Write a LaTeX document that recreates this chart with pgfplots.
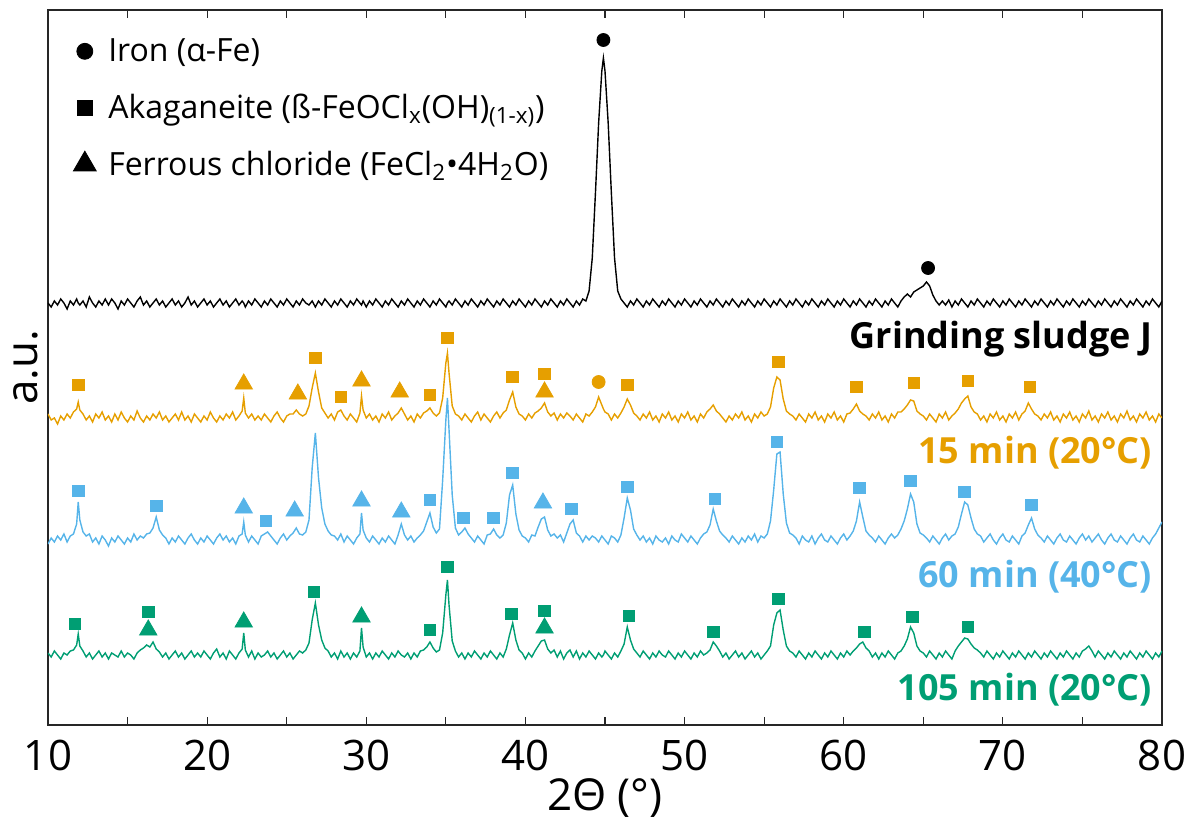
\documentclass[border=0pt]{standalone}
\usepackage{fontspec}
\setmainfont{Open Sans}
\usepackage{pgfplots}
\pgfplotsset{compat=1.18}
\usepackage{pgfplotstable}
\definecolor{cO}{HTML}{E69F00}
\definecolor{cB}{HTML}{56B4E9}
\definecolor{cG}{HTML}{009E73}
\pgfplotstableread{
x k o b g
10.0 0 4 -4 2
10.2 -4 -2 2 -2
10.4 2 0 -2 4
10.6 -2 -6 4 0
10.8 4 2 0 -4
11.0 0 -2 6 2
11.2 -6 4 -2 0
11.4 2 0 4 4
11.6 -2 6 6 5
11.8 4 9 16 10
11.9 0 16 38 21
12.0 -2 8 20 9
12.2 2 4 8 4
12.4 -4 -2 4 -2
12.6 6 2 6 2
12.8 0 -4 -2 -4
13.0 -4 4 2 0
13.2 2 0 -4 4
13.4 -2 6 4 -2
13.6 4 -2 0 2
13.8 -2 2 -6 -4
14.0 4 -4 2 2
14.2 0 4 -2 0
14.4 -6 -2 4 -2
14.6 2 6 0 4
14.8 -2 0 -4 -2
15.0 4 -4 2 2
15.2 0 2 -2 0
15.4 -4 -2 6 -4
15.6 2 7 0 2
15.8 6 0 4 5
16.0 -2 -4 2 7
16.2 2 2 6 10
16.4 -4 -2 7 8
16.6 0 4 12 13
16.8 4 0 23 6
17.0 -2 6 10 3
17.2 2 -2 5 -2
17.4 -4 2 2 2
17.6 0 -4 -4 -4
17.8 4 0 2 0
18.0 -2 4 -2 4
18.2 2 -2 4 -2
18.4 -4 6 0 2
18.6 0 -2 -4 -4
18.8 6 2 2 0
19.0 -2 -4 6 4
19.2 2 4 0 -2
19.4 -4 0 -4 2
19.6 0 -4 2 -2
19.8 4 2 -2 4
20.0 -2 -2 4 0
20.2 2 6 0 -4
20.4 -4 0 -4 2
20.6 0 -4 2 6
20.8 4 2 6 -2
21.0 -2 -2 0 2
21.2 2 4 4 -4
21.4 -4 0 -2 4
21.6 0 6 2 0
21.8 4 -2 -4 -4
22.0 -2 2 4 2
22.2 2 7 6 6
22.3 0 20 18 22
22.4 -4 5 5 5
22.6 2 0 -2 -2
22.8 -2 4 4 4
23.0 4 -2 0 -4
23.2 0 2 -4 2
23.4 -4 -2 4 -2
23.6 2 4 6 0
23.8 -2 0 8 4
24.0 4 -4 4 -2
24.2 0 2 0 2
24.4 -4 6 -4 -4
24.6 2 0 2 0
24.8 -2 -4 6 4
25.0 4 2 0 -2
25.2 0 4 4 2
25.4 -4 4 7 -4
25.6 2 8 12 0
25.8 -2 4 6 4
26.0 4 2 5 2
26.2 0 4 8 5
26.4 -2 12 20 12
26.6 2 30 72 35
26.8 -4 45 107 52
27.0 2 26 62 30
27.2 -2 10 32 15
27.4 4 5 16 7
27.6 0 0 9 4
27.8 -4 4 5 -2
28.0 2 -2 4 2
28.2 -2 6 0 -4
28.4 4 8 6 4
28.6 0 2 -2 -2
28.8 -4 -2 4 2
29.0 2 4 0 -4
29.2 -2 0 -4 2
29.4 4 -4 2 -2
29.6 0 5 6 4
29.7 -2 22 27 27
29.8 2 8 10 8
30.0 -4 0 2 -2
30.2 2 4 -2 2
30.4 -2 -2 4 -4
30.6 4 2 0 2
30.8 0 -4 -4 -2
31.0 -4 4 2 4
31.2 2 0 -2 0
31.4 -2 6 4 -4
31.6 4 -2 0 2
31.8 0 2 -4 -2
32.0 -4 5 5 4
32.2 2 10 16 0
32.4 -2 4 5 -2
32.6 4 -2 0 2
32.8 0 2 4 -4
33.0 -4 -4 -2 2
33.2 2 4 2 -2
33.4 -2 0 5 4
33.6 4 5 9 5
33.8 0 7 18 8
34.0 -4 10 27 13
34.2 2 5 13 7
34.4 -2 2 7 3
34.6 4 5 11 5
34.8 0 20 60 22
35.0 -4 55 120 60
35.1 0 65 142 75
35.2 2 45 110 50
35.4 -2 12 45 14
35.6 4 4 12 4
35.8 0 2 5 -2
36.0 -4 -2 8 2
36.2 2 4 12 -4
36.4 -2 0 6 2
36.6 4 -4 2 -2
36.8 0 2 -2 4
37.0 -4 6 4 0
37.2 2 -2 0 -4
37.4 -2 4 -4 2
37.6 4 0 5 -2
37.8 0 -4 6 4
38.0 -4 2 11 0
38.2 2 6 5 -4
38.4 -2 0 2 2
38.6 4 5 5 -2
38.8 0 8 17 6
39.0 -4 18 45 20
39.2 2 26 55 32
39.4 -2 11 26 15
39.6 4 4 10 5
39.8 0 2 4 2
40.0 -4 -2 2 -4
40.2 2 4 -2 2
40.4 -2 0 5 -2
40.6 4 5 4 4
40.8 0 7 13 9
41.0 -4 10 21 14
41.2 2 15 23 15
41.4 -2 6 10 6
41.6 4 2 4 2
41.8 0 5 6 5
42.0 -4 -2 2 -2
42.2 2 4 5 4
42.4 -2 0 -2 -4
42.6 4 5 7 2
42.8 0 2 16 5
43.0 -4 -2 20 -2
43.2 2 4 7 4
43.4 -2 0 4 -4
43.6 4 -4 -2 2
43.8 2 4 4 -2
44.0 12 2 0 4
44.2 45 6 4 0
44.4 110 11 2 -4
44.6 180 21 -2 2
44.8 232 13 4 -2
44.9 245 9 2 0
45.0 232 6 0 4
45.2 180 4 -4 0
45.4 110 -2 4 -4
45.6 45 4 2 2
45.8 12 0 -2 -2
46.0 4 5 5 4
46.2 0 11 22 11
46.4 -4 19 42 28
46.6 2 13 30 15
46.8 -2 5 11 6
47.0 4 2 5 2
47.2 0 -2 0 -2
47.4 -4 4 4 4
47.6 2 0 -2 0
47.8 -2 6 2 -4
48.0 4 -2 -4 2
48.2 0 2 4 -2
48.4 -4 -4 0 4
48.6 2 4 -2 0
48.8 -2 0 2 -2
49.0 4 6 -4 4
49.2 0 -2 4 0
49.4 -4 2 0 -4
49.6 2 -4 -2 2
49.8 -2 4 6 -2
50.0 4 0 2 4
50.2 0 6 -2 0
50.4 -4 -2 4 -4
50.6 2 2 0 2
50.8 -2 -4 -4 -2
51.0 4 4 2 4
51.2 0 0 6 0
51.4 -4 6 8 2
51.6 2 9 15 5
51.8 -2 13 31 13
52.0 4 7 19 9
52.2 0 4 9 4
52.4 -4 0 5 -2
52.6 2 -4 2 2
52.8 -2 2 -2 -4
53.0 4 -2 4 0
53.2 0 4 0 4
53.4 -4 0 -4 -2
53.6 2 6 2 2
53.8 -2 -2 -2 -4
54.0 4 2 4 0
54.2 0 -4 0 4
54.4 -4 4 6 -2
54.6 2 0 -2 2
54.8 -2 6 4 -4
55.0 4 2 2 0
55.2 0 4 6 4
55.4 -4 11 19 9
55.6 2 30 50 30
55.8 -2 41 86 42
56.0 4 38 88 45
56.2 0 19 46 25
56.4 -4 7 17 9
56.6 2 4 7 4
56.8 -2 2 5 2
57.0 4 -2 2 -2
57.2 0 4 -4 4
57.4 -4 0 4 0
57.6 2 -4 0 -4
57.8 -2 4 -2 2
58.0 4 0 4 -2
58.2 0 6 -4 4
58.4 -4 -2 2 0
58.6 2 2 6 -4
58.8 -2 -4 0 2
59.0 4 4 -2 -2
59.2 0 0 4 4
59.4 -4 6 0 0
59.6 2 -2 -4 -4
59.8 -2 2 2 2
60.0 4 -4 6 -2
60.2 0 4 0 4
60.4 -4 5 4 0
60.6 2 9 9 4
60.8 -2 14 19 7
61.0 4 7 38 11
61.2 0 4 23 13
61.4 -4 2 9 7
61.6 2 -2 5 4
61.8 -2 4 2 -2
62.0 4 0 -2 2
62.2 0 6 4 -4
62.4 -4 -2 0 2
62.6 2 2 -4 -2
62.8 -2 -4 2 4
63.0 4 4 6 0
63.2 0 0 2 -4
63.4 -4 6 5 2
63.6 2 6 11 4
63.8 6 9 19 9
64.0 9 13 31 16
64.2 6 18 46 28
64.4 11 17 38 22
64.6 13 7 16 9
64.8 15 4 7 4
65.0 17 2 5 2
65.2 21 -2 2 -2
65.4 17 4 -2 4
65.6 8 0 4 0
65.8 2 -4 0 -4
66.0 -2 4 -4 2
66.2 2 0 2 -2
66.4 -2 6 6 4
66.6 3 -2 0 0
66.8 -4 2 4 -4
67.0 2 5 6 4
67.2 -2 9 13 9
67.4 4 15 26 13
67.6 0 19 38 17
67.8 -4 22 35 16
68.0 2 11 22 11
68.2 -2 6 11 7
68.4 4 4 6 5
68.6 0 -2 4 2
68.8 -4 2 -2 -2
69.0 2 -4 2 4
69.2 -2 4 6 0
69.4 4 0 0 -4
69.6 0 6 -4 2
69.8 -4 -2 2 -2
70.0 2 2 6 4
70.2 -2 -4 0 0
70.4 4 4 -2 -4
70.6 0 0 4 2
70.8 -4 6 0 -2
71.0 2 -2 -4 4
71.2 -2 4 4 0
71.4 4 7 7 -4
71.6 0 15 15 2
71.8 -4 9 22 -2
72.0 2 4 11 4
72.2 -2 2 5 0
72.4 4 -2 2 -4
72.6 0 4 -2 2
72.8 -4 0 4 -2
73.0 2 6 0 4
73.2 -2 -2 -4 0
73.4 4 2 2 -4
73.6 0 -4 6 2
73.8 -4 4 0 -2
74.0 2 0 -2 4
74.2 -2 6 4 0
74.4 4 -2 0 -4
74.6 0 2 -4 2
74.8 -4 -4 2 -2
75.0 2 4 6 4
75.2 -2 0 0 6
75.4 4 7 4 9
75.6 0 -2 -2 4
75.8 -4 2 2 -2
76.0 2 -4 6 4
76.2 -2 4 0 0
76.4 4 0 -4 -4
76.6 0 6 2 2
76.8 -4 -2 6 -2
77.0 2 2 0 4
77.2 -2 -4 -2 0
77.4 4 4 4 -4
77.6 0 0 0 2
77.8 -4 7 -4 -2
78.0 2 -2 2 4
78.2 -2 2 6 0
78.4 4 -4 0 -4
78.6 0 4 -2 2
78.8 -4 0 4 -2
79.0 2 6 0 4
79.2 -2 -2 -4 0
79.4 4 2 2 -4
79.6 0 -4 6 2
79.8 -4 4 12 -2
80.0 2 0 18 4
}\xrd

\begin{document}
\begin{tikzpicture}
\begin{axis}[
  scale only axis, width=557pt, height=357.5pt,
  xmin=10, xmax=80, ymin=0, ymax=715,
  xtick={10,20,...,80}, minor xtick={15,25,...,75},
  ytick=\empty,
  tick align=inside,
  major tick length=4pt, minor tick length=4pt,
  axis line style={line width=0.6pt, black!85},
  every tick/.style={line width=0.6pt, black!85},
  /pgf/number format/assume math mode=true,
  xticklabel style={font=\fontsize{21}{24}\selectfont, anchor=base, yshift=-22.5pt},
  xlabel={2Θ (°)},
  xlabel style={font=\fontsize{22}{26}\selectfont, at={(axis description cs:0.5,0)}, anchor=base, yshift=-42.5pt},
  ylabel={a.u.},
  ylabel style={font=\fontsize{22}{26}\selectfont, at={(axis description cs:-0.009,0.5)}, anchor=base},
  legend style={draw=none, fill=none, at={(axis description cs:0,1)}, anchor=north west,
    xshift=12.5pt, yshift=-12pt, font=\fontsize{16}{19}\selectfont, row sep=10.75pt, inner sep=0pt,
    /tikz/every odd column/.append style={column sep=4pt}},
  legend cell align=left,
]
\coordinate (A) at (rel axis cs:0,0);
\addplot[forget plot, black, line width=0.7pt] table[x=x, y expr=\thisrow{k}+422] {\xrd};
\addplot[forget plot, cO, line width=0.7pt] table[x=x, y expr=\thisrow{o}+307] {\xrd};
\addplot[forget plot, cB, line width=0.7pt] table[x=x, y expr=\thisrow{b}+185] {\xrd};
\addplot[forget plot, cG, line width=0.7pt] table[x=x, y expr=\thisrow{g}+70] {\xrd};
% markers: black
\addplot[forget plot, only marks, mark=*, mark size=3.25pt, black] coordinates {(44.9,685) (65.3,457)};
% orange
\addplot[forget plot, only marks, mark=square*, mark size=2.9pt, cO] coordinates {
(11.9,340) (26.8,367) (28.4,328) (34.0,330) (35.1,387) (39.2,348) (41.2,351) (46.4,340) (55.9,363) (60.8,338) (64.4,342) (67.8,344) (71.7,338)};
\addplot[forget plot, only marks, mark=triangle*, mark size=5pt, cO] coordinates {
(22.3,341) (25.7,331) (29.7,344) (32.1,333) (41.2,333)};
\addplot[forget plot, only marks, mark=*, mark size=3.25pt, cO] coordinates {(44.6,343)};
% blue
\addplot[forget plot, only marks, mark=square*, mark size=2.9pt, cB] coordinates {
(11.9,234) (16.8,219) (23.7,204) (34.0,225) (36.1,207) (38.0,207) (39.2,252) (42.9,216) (46.4,238) (51.9,226) (55.8,283) (61.0,237) (64.2,244) (67.6,233) (71.8,220)};
\addplot[forget plot, only marks, mark=triangle*, mark size=5pt, cB] coordinates {
(22.3,217) (25.5,214) (29.7,224) (32.2,213) (41.1,222)};
% green
\addplot[forget plot, only marks, mark=square*, mark size=2.9pt, cG] coordinates {
(11.7,101) (16.3,113) (26.7,133) (34.0,95) (35.1,158) (39.1,111) (41.2,114) (46.5,109) (51.8,93) (55.9,126) (61.3,93) (64.3,108) (67.8,98)};
\addplot[forget plot, only marks, mark=triangle*, mark size=5pt, cG] coordinates {
(16.3,95) (22.3,103) (29.7,108) (41.2,97)};
% labels
\node[anchor=base east, inner sep=0pt, font=\fontsize{18}{21}\selectfont\bfseries, text=black] at (axis cs:79.4,377) {Grinding sludge J};
\node[anchor=base east, inner sep=0pt, font=\fontsize{18}{21}\selectfont\bfseries, text=cO] at (axis cs:79.4,262) {15 min (20°C)};
\node[anchor=base east, inner sep=0pt, font=\fontsize{18}{21}\selectfont\bfseries, text=cB] at (axis cs:79.4,138) {60 min (40°C)};
\node[anchor=base east, inner sep=0pt, font=\fontsize{18}{21}\selectfont\bfseries, text=cG] at (axis cs:79.4,25) {105 min (20°C)};
% legend
\addlegendimage{only marks, mark=*, mark size=4pt, black}
\addlegendentry{Iron (α-Fe)}
\addlegendimage{only marks, mark=square*, mark size=3.75pt, black}
\addlegendentry{Akaganeite (ß-FeOCl\textsubscript{x}(OH)\textsubscript{(1-x)})}
\addlegendimage{only marks, mark=triangle*, mark size=6.6pt, black}
\addlegendentry{Ferrous chloride (FeCl\textsubscript{2}•4H\textsubscript{2}O)}
\end{axis}
\pgfresetboundingbox
\path (A) ++(-24pt,-47pt) rectangle ++(596pt,409.5pt);
\end{tikzpicture}
\end{document}
